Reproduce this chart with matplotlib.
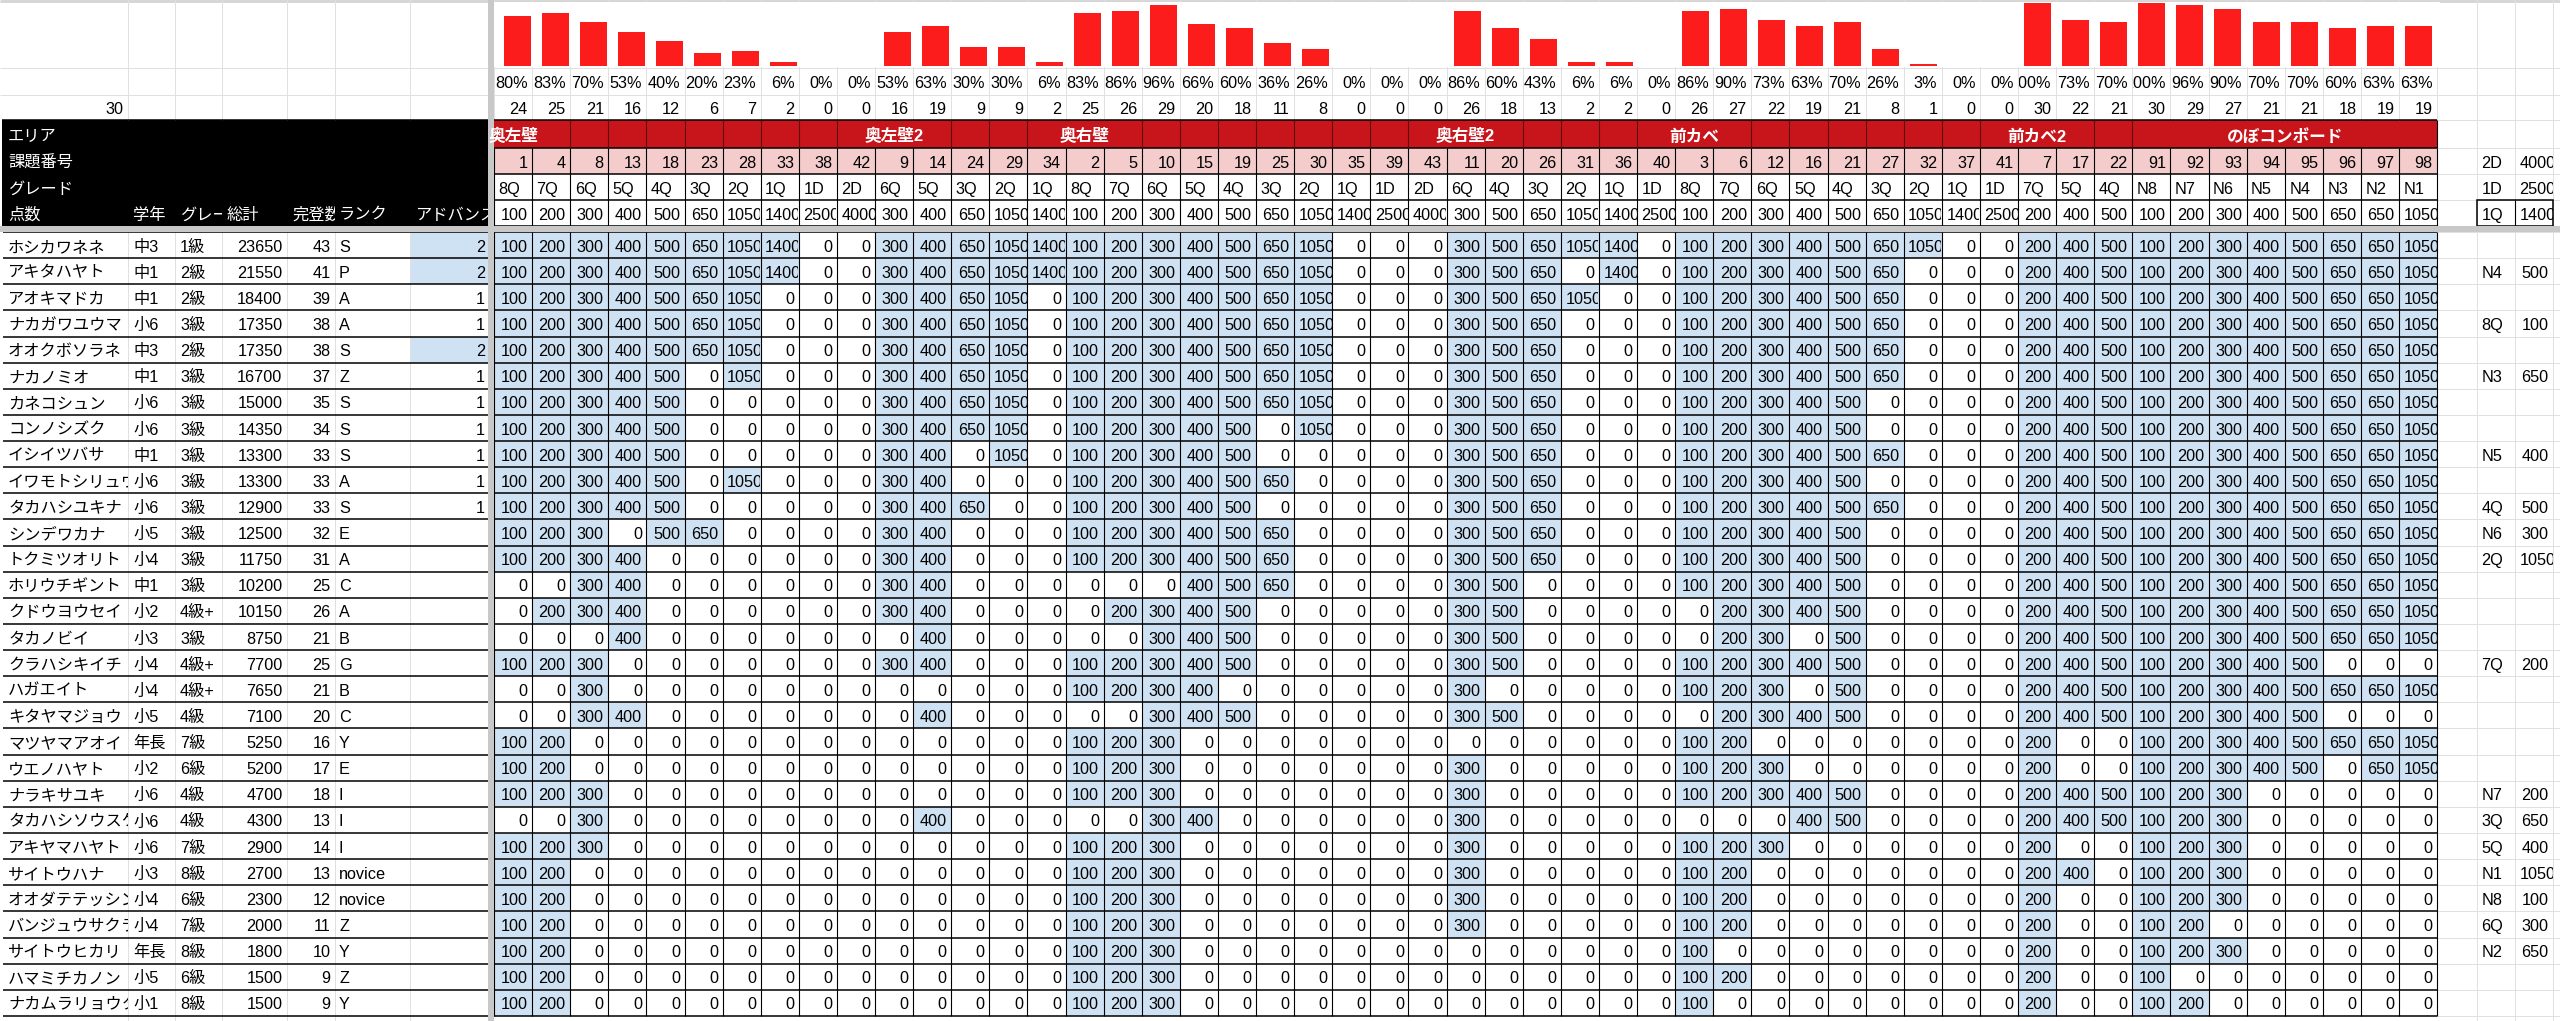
import matplotlib
matplotlib.use('Agg')
import matplotlib.pyplot as plt
from matplotlib.patches import Rectangle
from matplotlib.transforms import Bbox

plt.rcParams['font.family'] = ['Liberation Sans', 'Noto Sans CJK JP']

# ---- sheet contents ----
names = ['ホシカワネネ', 'アキタハヤト', 'アオキマドカ', 'ナカガワユウマ', 'オオクボソラネ',
         'ナカノミオ', 'カネコシュン', 'コンノシズク', 'イシイツバサ', 'イワモトシリュウ',
         'タカハシユキナ', 'シンデワカナ', 'トクミツオリト', 'ホリウチギント', 'クドウヨウセイ',
         'タカノビイ', 'クラハシキイチ', 'ハガエイト', 'キタヤマジョウ', 'マツヤマアオイ',
         'ウエノハヤト', 'ナラキサユキ', 'タカハシソウスケ', 'アキヤマハヤト', 'サイトウハナ',
         'オオダテテッシン', 'バンジュウサクラ', 'サイトウヒカリ', 'ハマミチカノン', 'ナカムラリョウタ']
school = ['中3', '中1', '中1', '小6', '中3', '中1', '小6', '小6', '中1', '小6',
          '小6', '小5', '小4', '中1', '小2', '小3', '小4', '小4', '小5', '年長',
          '小2', '小6', '小6', '小6', '小3', '小4', '小4', '年長', '小5', '小1']
grade = ['1級', '2級', '2級', '3級', '2級', '3級', '3級', '3級', '3級', '3級',
         '3級', '3級', '3級', '3級', '4級+', '3級', '4級+', '4級+', '4級', '7級',
         '6級', '4級', '4級', '7級', '8級', '6級', '7級', '8級', '6級', '8級']
totals = [23650, 21550, 18400, 17350, 17350, 16700, 15000, 14350, 13300, 13300,
          12900, 12500, 11750, 10200, 10150, 8750, 7700, 7650, 7100, 5250,
          5200, 4700, 4300, 2900, 2700, 2300, 2000, 1800, 1500, 1500]
clears = [43, 41, 39, 38, 38, 37, 35, 34, 33, 33, 33, 32, 31, 25, 26,
          21, 25, 21, 20, 16, 17, 18, 13, 14, 13, 12, 11, 10, 9, 9]
ranks = ['S', 'P', 'A', 'A', 'S', 'Z', 'S', 'S', 'S', 'A', 'S', 'E', 'A', 'C', 'A',
         'B', 'G', 'B', 'C', 'Y', 'E', 'I', 'I', 'I', 'novice', 'novice', 'Z', 'Y', 'Z', 'Y']
advance = [2, 2, 1, 1, 2, 1, 1, 1, 1, 1, 1] + [None] * 19

area_names = ['奥左壁', '奥左壁2', '奥右壁', '奥右壁2', '前カベ', '前カベ2', 'のぼコンボード']
area_sizes = [10, 5, 10, 6, 9, 3, 8]
problem_no = [1, 4, 8, 13, 18, 23, 28, 33, 38, 42, 9, 14, 24, 29, 34,
              2, 5, 10, 15, 19, 25, 30, 35, 39, 43, 11, 20, 26, 31, 36, 40,
              3, 6, 12, 16, 21, 27, 32, 37, 41, 7, 17, 22,
              91, 92, 93, 94, 95, 96, 97, 98]
problem_grade = ['8Q', '7Q', '6Q', '5Q', '4Q', '3Q', '2Q', '1Q', '1D', '2D',
                 '6Q', '5Q', '3Q', '2Q', '1Q',
                 '8Q', '7Q', '6Q', '5Q', '4Q', '3Q', '2Q', '1Q', '1D', '2D',
                 '6Q', '4Q', '3Q', '2Q', '1Q', '1D',
                 '8Q', '7Q', '6Q', '5Q', '4Q', '3Q', '2Q', '1Q', '1D',
                 '7Q', '5Q', '4Q',
                 'N8', 'N7', 'N6', 'N5', 'N4', 'N3', 'N2', 'N1']
problem_pts = [100, 200, 300, 400, 500, 650, 1050, 1400, 2500, 4000,
               300, 400, 650, 1050, 1400,
               100, 200, 300, 400, 500, 650, 1050, 1400, 2500, 4000,
               300, 500, 650, 1050, 1400, 2500,
               100, 200, 300, 400, 500, 650, 1050, 1400, 2500,
               200, 400, 500,
               100, 200, 300, 400, 500, 650, 650, 1050]
solved_count = [24, 25, 21, 16, 12, 6, 7, 2, 0, 0, 16, 19, 9, 9, 2,
                25, 26, 29, 20, 18, 11, 8, 0, 0, 0, 26, 18, 13, 2, 2, 0,
                26, 27, 22, 19, 21, 8, 1, 0, 0, 30, 22, 21,
                30, 29, 27, 21, 21, 18, 19, 19]
solved_pct = [80, 83, 70, 53, 40, 20, 23, 6, 0, 0, 53, 63, 30, 30, 6,
              83, 86, 96, 66, 60, 36, 26, 0, 0, 0, 86, 60, 43, 6, 6, 0,
              86, 90, 73, 63, 70, 26, 3, 0, 0, 100, 73, 70,
              100, 96, 90, 70, 70, 60, 63, 63]

# 1 = cleared, per player, grouped by area
cleared = [
    '1111111100 11111 1111111000 111110 111111100 111 11111111',
    '1111111100 11111 1111111000 111010 111111000 111 11111111',
    '1111111000 11110 1111111000 111100 111111000 111 11111111',
    '1111111000 11110 1111111000 111000 111111000 111 11111111',
    '1111111000 11110 1111111000 111000 111111000 111 11111111',
    '1111101000 11110 1111111000 111000 111111000 111 11111111',
    '1111100000 11110 1111111000 111000 111110000 111 11111111',
    '1111100000 11110 1111101000 111000 111110000 111 11111111',
    '1111100000 11010 1111100000 111000 111111000 111 11111111',
    '1111101000 11000 1111110000 111000 111110000 111 11111111',
    '1111100000 11100 1111100000 111000 111111000 111 11111111',
    '1110110000 11000 1111110000 111000 111110000 111 11111111',
    '1111000000 11000 1111110000 111000 111110000 111 11111111',
    '0011000000 11000 0001110000 110000 111110000 111 11111111',
    '0111000000 11000 0111100000 110000 011110000 111 11111111',
    '0001000000 01000 0011100000 110000 011010000 111 11111111',
    '1110000000 11000 1111100000 110000 111110000 111 11111000',
    '0010000000 00000 1111000000 100000 111010000 111 11111111',
    '0011000000 01000 0011100000 110000 011110000 111 11111000',
    '1100000000 00000 1110000000 000000 110000000 100 11111111',
    '1100000000 00000 1110000000 100000 111000000 100 11111011',
    '1110000000 00000 1110000000 100000 111110000 111 11100000',
    '0010000000 01000 0011000000 100000 000110000 111 11100000',
    '1110000000 00000 1110000000 100000 111000000 100 11100000',
    '1100000000 00000 1110000000 100000 110000000 110 11100000',
    '1100000000 00000 1110000000 100000 110000000 100 11100000',
    '1100000000 00000 1110000000 100000 110000000 100 11000000',
    '1100000000 00000 1110000000 000000 100000000 100 11100000',
    '1100000000 00000 1110000000 000000 110000000 100 10000000',
    '1100000000 00000 1110000000 000000 100000000 100 11000000',
]

# side lookup (grade -> points)
side_head = [('2D', 4000), ('1D', 2500), ('1Q', 1400)]
side_rows = [1, 3, 5, 8, 10, 11, 12, 16, 21, 22, 23, 24, 25, 26, 27]
side_grade = ['N4', '8Q', 'N3', 'N5', '4Q', 'N6', '2Q', '7Q', 'N7', '3Q', '5Q', 'N1', 'N8', '6Q', 'N2']
side_pts = [500, 100, 650, 400, 500, 300, 1050, 200, 200, 650, 400, 1050, 100, 300, 650]

# ---- layout (pixels) ----
W, H = 2560, 1021
FS = 11.7
PAD = 4.5
GRID = '#e0e0e0'
BLUE = '#cfe2f3'
PINK = '#f4cccc'
DRED = '#c8151b'
FROZEN = '#c8c8c8'

C0, CW, NC = 494, 38.1, len(problem_no)
xs = [C0 + CW * j for j in range(NC + 1)]
XEND = xs[-1]
left_x = [2, 128, 175, 222, 287, 335, 410, 488]
side_x = [XEND, 2477, 2515, 2553, 2600]
top_y = [0, 68, 95, 120, 148, 174, 200, 226]
D0, RH = 232, 26.13
ys = [D0 + RH * i for i in range(len(names) + 1)]

fig = plt.figure(figsize=(W / 100, H / 100), dpi=100)
ax = fig.add_axes([0, 0, 1, 1])
ax.set_xlim(0, W)
ax.set_ylim(H, 0)
ax.axis('off')


def box(x0, y0, x1, y1, c, z=1):
    ax.add_patch(Rectangle((x0, y0), x1 - x0, y1 - y0, facecolor=c, edgecolor='none', zorder=z))


def hl(y, x0, x1, c, lw=0.72, z=2):
    ax.plot([x0, x1], [y, y], color=c, lw=lw, zorder=z, solid_capstyle='butt')


def vl(x, y0, y1, c, lw=0.72, z=2):
    ax.plot([x, x], [y0, y1], color=c, lw=lw, zorder=z, solid_capstyle='butt')


def txt(x0, x1, y0, y1, s, align='right', c='black', pad=PAD, bold=False, fs=FS):
    # text sits in a cell and is cut at the cell edges, like the sheet does
    s = str(s)
    if align == 'num':
        align = 'left' if len(s) >= 4 else 'right'
    if align == 'right':
        x, ha = x1 - pad, 'right'
    elif align == 'left':
        x, ha = x0 + pad, 'left'
    else:
        x, ha = (x0 + x1) / 2, 'center'
    t = ax.text(x, y1 - 6.5, s, ha=ha, va='baseline', color=c, fontsize=fs,
                fontweight='bold' if bold else 'normal', zorder=6)
    t.set_clip_on(True)
    t.set_clip_box(Bbox.from_extents(x0 + 0.5, H - y1, x1 - 0.5, H - y0))
    return t


# ---- top rows: chart, percent, count ----
hl(1, 0, W, '#d4d4d4', lw=2)
for y in top_y[1:3]:
    hl(y, 0, W, GRID)
for x in left_x[1:-1] + xs + side_x[1:]:
    vl(x, 0, top_y[3], GRID)
box(C0, 2, XEND + 3, 67, 'white', z=3)
for j in range(NC):
    txt(xs[j], xs[j + 1], top_y[1], top_y[2], f'{solved_pct[j]}%')
    txt(xs[j], xs[j + 1], top_y[2], top_y[3], solved_count[j])
txt(left_x[0], left_x[1], top_y[2], top_y[3], len(names))

# ---- header block ----
box(2, top_y[3], left_x[-1], top_y[7], 'black')
for k, lab in enumerate(['エリア', '課題番号', 'グレード']):
    txt(2, left_x[-1], top_y[3 + k], top_y[4 + k], lab, 'left', 'white', pad=6)
head_labels = ['点数', '学年', 'グレー', '総計', '完登数', 'ランク', 'アドバンス']
head_pads = [6, 5, 5, 5, 5, 4, 6]
for k, lab in enumerate(head_labels):
    txt(left_x[k], left_x[k + 1], top_y[6], top_y[7], lab, 'left', 'white', pad=head_pads[k])

box(C0, top_y[3], XEND, top_y[4], DRED)
box(C0, top_y[4], XEND, top_y[5], PINK)
for j in range(NC):
    txt(xs[j], xs[j + 1], top_y[4], top_y[5], problem_no[j])
    txt(xs[j], xs[j + 1], top_y[5], top_y[6], problem_grade[j], 'left')
    txt(xs[j], xs[j + 1], top_y[6], top_y[7], problem_pts[j], 'num')
for y in top_y[3:]:
    hl(y, 2, XEND, 'black', lw=1.1, z=3)
for x in xs:
    vl(x, top_y[4], top_y[7], 'black', lw=0.8, z=3)

# area labels and the red row dividers they hide
fig.canvas.draw()
rend = fig.canvas.get_renderer()
hidden = []
start = 0
for name, size in zip(area_names, area_sizes):
    if size == 8:
        x0, x1 = xs[start], xs[start + size]
        hidden.append((x0 + 1, x1 - 1))
    else:
        x0, x1 = xs[start] - 40, xs[start + 1] + 40
    t = txt(x0, x1, top_y[3], top_y[4], name, 'center', 'white', bold=True, fs=12)
    t.set_clip_on(False)
    bb = t.get_window_extent(renderer=rend)
    hidden.append((bb.x0 - 2, bb.x1 + 2))
    start += size
for x in xs[1:-1]:
    if not any(a < x < b for a, b in hidden):
        vl(x, top_y[3], top_y[4], '#5c0a0a', lw=0.8, z=3)
vl(XEND, top_y[3], top_y[4], 'black', lw=0.8, z=3)

# side lookup header
for k, (g, p) in enumerate(side_head):
    txt(side_x[1], side_x[2], top_y[4 + k], top_y[5 + k], g, 'left')
    txt(side_x[2], side_x[3], top_y[4 + k], top_y[5 + k], p, 'num')
for y in top_y[3:7]:
    hl(y, XEND, W, GRID)
for x in side_x[1:]:
    vl(x, top_y[3], top_y[7], GRID)
ax.add_patch(Rectangle((side_x[1], top_y[6]), side_x[3] - side_x[1], top_y[7] - top_y[6],
                       facecolor='none', edgecolor='black', lw=1.1, zorder=4))
vl(side_x[2], top_y[6], top_y[7], 'black', lw=0.8, z=4)

# ---- player rows ----
for i in range(len(names)):
    y0, y1 = ys[i], ys[i + 1]
    flags = cleared[i].replace(' ', '')
    txt(left_x[0], left_x[1], y0, y1, names[i], 'left', pad=6)
    txt(left_x[1], left_x[2], y0, y1, school[i], 'left', pad=5)
    txt(left_x[2], left_x[3], y0, y1, grade[i], 'left', pad=5)
    txt(left_x[3], left_x[4], y0, y1, totals[i])
    txt(left_x[4], left_x[5], y0, y1, clears[i])
    txt(left_x[5], left_x[6], y0, y1, ranks[i], 'left', pad=4)
    if advance[i] is not None:
        if advance[i] >= 2:
            box(left_x[6], y0, left_x[7], y1, BLUE)
        txt(left_x[6], left_x[7], y0, y1, advance[i], pad=3)
    for j in range(NC):
        v = problem_pts[j] if flags[j] == '1' else 0
        if v:
            box(xs[j], y0, xs[j + 1], y1, BLUE)
        txt(xs[j], xs[j + 1], y0, y1, v, 'num')

for k, r in enumerate(side_rows):
    txt(side_x[1], side_x[2], ys[r], ys[r + 1], side_grade[k], 'left')
    txt(side_x[2], side_x[3], ys[r], ys[r + 1], side_pts[k], 'num')

for x in left_x[1:-1]:
    vl(x, D0, H, GRID)
for x in side_x[1:]:
    vl(x, D0, H, GRID)
for y in ys:
    hl(y, 3, left_x[-1], 'black', lw=1.1, z=3)
    hl(y, C0, XEND, 'black', lw=1.1, z=3)
    hl(y, XEND, W, GRID)
for x in xs:
    vl(x, D0, ys[-1], 'black', lw=0.8, z=3)

# frozen pane bars
box(left_x[-1], 0, C0, H, FROZEN, z=5)
box(0, top_y[7], W, D0, FROZEN, z=5)

# ---- clear-count chart over the first row ----
bax = fig.add_axes([(C0 + 4) / W, 1 - 66 / H, (XEND - C0 - 4) / W, 63 / H])
bax.bar(range(NC), solved_count, width=0.71, color='#fc1c1c', edgecolor='none')
bax.set_xlim(-0.5, NC - 0.5)
bax.set_ylim(0, max(solved_count))
bax.axis('off')

fig.savefig('out.png', dpi=100)
